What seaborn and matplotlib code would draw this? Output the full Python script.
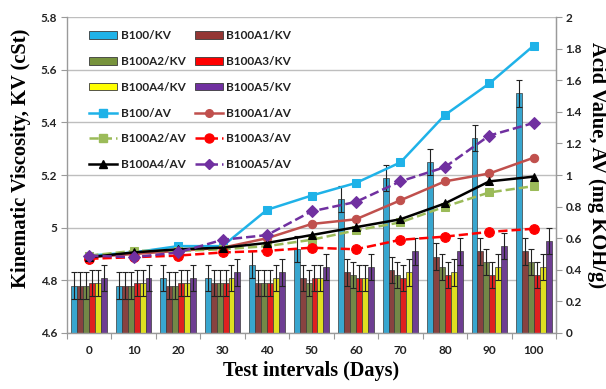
import numpy as np
import pandas as pd
import matplotlib
matplotlib.use("Agg")
import matplotlib.pyplot as plt
import seaborn as sns
from matplotlib.patches import Patch
from matplotlib.lines import Line2D
from matplotlib.container import BarContainer

# ---------------- data ----------------
days = ["0", "10", "20", "30", "40", "50", "60", "70", "80", "90", "100"]
samples = ["B100", "B100A1", "B100A2", "B100A3", "B100A4", "B100A5"]

kv_b100 = [4.78, 4.78, 4.81, 4.81, 4.86, 4.92, 5.11, 5.19, 5.25, 5.34, 5.51]
kv_a1 = [4.78, 4.78, 4.78, 4.79, 4.79, 4.81, 4.83, 4.84, 4.89, 4.91, 4.91]
kv_a2 = [4.78, 4.78, 4.78, 4.79, 4.79, 4.79, 4.82, 4.82, 4.85, 4.87, 4.87]
kv_a3 = [4.79, 4.79, 4.79, 4.79, 4.79, 4.81, 4.81, 4.81, 4.82, 4.82, 4.82]
kv_a4 = [4.79, 4.79, 4.79, 4.81, 4.81, 4.81, 4.81, 4.83, 4.83, 4.85, 4.85]
kv_a5 = [4.81, 4.81, 4.81, 4.83, 4.83, 4.85, 4.85, 4.91, 4.91, 4.93, 4.95]
kv_err = 0.05

av_b100 = [0.49, 0.51, 0.55, 0.55, 0.78, 0.87, 0.95, 1.08, 1.38, 1.58, 1.82]
av_a1 = [0.48, 0.50, 0.52, 0.54, 0.60, 0.69, 0.72, 0.84, 0.96, 1.01, 1.11]
av_a2 = [0.49, 0.52, 0.52, 0.53, 0.55, 0.59, 0.65, 0.70, 0.80, 0.89, 0.93]
av_a3 = [0.47, 0.48, 0.49, 0.51, 0.52, 0.54, 0.53, 0.59, 0.61, 0.64, 0.66]
av_a4 = [0.48, 0.51, 0.53, 0.54, 0.57, 0.62, 0.67, 0.72, 0.82, 0.96, 0.99]
av_a5 = [0.49, 0.48, 0.51, 0.59, 0.62, 0.77, 0.83, 0.96, 1.05, 1.25, 1.33]

kv_left_ticks = [4.6, 4.8, 5.0, 5.2, 5.4, 5.6, 5.8]
kv_left_labels = ["4.6", "4.8", "5", "5.2", "5.4", "5.6", "5.8"]
av_right_ticks = [0, 0.2, 0.4, 0.6, 0.8, 1.0, 1.2, 1.4, 1.6, 1.8, 2.0]
av_right_labels = ["0", "0.2", "0.4", "0.6", "0.8", "1", "1.2", "1.4", "1.6", "1.8", "2"]

# ---------------- styles ----------------
bar_colors = ["#1FB2E8", "#943634", "#77933C", "#FF0000", "#FFFF00", "#7030A0"]
line_colors = ["#1FB2E8", "#C0504D", "#9BBB59", "#FF0000", "#000000", "#7030A0"]
line_styles = ["-", "-", "--", "--", "-", "--"]
line_markers = ["s", "o", "s", "o", "^", "D"]
marker_sizes = [6, 6, 6, 7, 6, 6]

kv_all = [kv_b100, kv_a1, kv_a2, kv_a3, kv_a4, kv_a5]
av_all = [av_b100, av_a1, av_a2, av_a3, av_a4, av_a5]

df = pd.DataFrame({
    "day": np.tile(days, len(samples)),
    "sample": np.repeat(samples, len(days)),
    "kv": np.concatenate(kv_all),
})

tick_font = "Lato"
label_font = ["Liberation Serif"]

fig = plt.figure(figsize=(6.06, 3.89), dpi=100)
ax = fig.add_axes([0.1106, 0.144, 0.8069, 0.812])

sns.barplot(data=df, x="day", y="kv", hue="sample", order=days, hue_order=samples,
            palette=bar_colors, errorbar=None, width=0.8, ax=ax,
            edgecolor="#3a3a3a", linewidth=0.5, legend=False, zorder=2)

bar_containers = [c for c in ax.containers if isinstance(c, BarContainer)]
for cont in bar_containers:
    for bar in list(cont.patches):
        ax.errorbar(bar.get_x() + bar.get_width() / 2, bar.get_height(), yerr=kv_err,
                    fmt="none", ecolor="#222222", elinewidth=0.8, capsize=2.2,
                    capthick=0.8, zorder=3)

ax.set_ylim(4.6, 5.8)
ax.set_xlim(-0.5, 10.5)
ax.set_yticks(kv_left_ticks)
ax.set_yticklabels(kv_left_labels)
ax.yaxis.grid(True, color="#BEBEBE", linewidth=1.0, zorder=0)
ax.set_axisbelow(True)
ax.xaxis.grid(False)

ax.spines["top"].set_visible(False)
for s in ["left", "bottom", "right"]:
    ax.spines[s].set_color("#9A9A9A")
    ax.spines[s].set_linewidth(1.0)

ax.tick_params(axis="y", direction="out", length=4, width=0.8, color="#9A9A9A", pad=3)
ax.tick_params(axis="x", which="major", length=0, pad=9)
ax.set_xticks(np.arange(-0.5, 11, 1.0), minor=True)
ax.tick_params(axis="x", which="minor", direction="out", length=4, width=0.8, color="#9A9A9A")

for lab in ax.get_yticklabels() + ax.get_xticklabels():
    lab.set_fontfamily(tick_font)
    lab.set_fontweight("bold")
    lab.set_fontsize(8.5)
    lab.set_color("#222222")

ax.set_xlabel("Test intervals (Days)", family=label_font, fontweight="bold", fontsize=14.5, labelpad=3)
ax.set_ylabel("Kinematic Viscosity, KV (cSt)", family=label_font, fontweight="bold", fontsize=14.8,
              labelpad=7, y=0.554)

# ---------------- acid value lines ----------------
ax2 = ax.twinx()
pos = np.arange(len(days))
for vals, c, ls, mk, ms in zip(av_all, line_colors, line_styles, line_markers, marker_sizes):
    sns.lineplot(x=pos, y=vals, ax=ax2, color=c, linestyle=ls, marker=mk, markersize=ms,
                 markeredgecolor=c, linewidth=1.8, zorder=4)

ax2.set_ylim(0, 2)
ax2.set_yticks(av_right_ticks)
ax2.set_yticklabels(av_right_labels)
ax2.grid(False)
for s in ["top", "left", "bottom"]:
    ax2.spines[s].set_visible(False)
ax2.spines["right"].set_color("#9A9A9A")
ax2.tick_params(axis="y", direction="out", length=4, width=0.8, color="#9A9A9A", pad=3)
for lab in ax2.get_yticklabels():
    lab.set_fontfamily(tick_font)
    lab.set_fontweight("bold")
    lab.set_fontsize(8.5)
    lab.set_color("#222222")
ax2.set_ylabel("Acid Value, AV (mg KOH/g)", family=label_font, fontweight="bold", fontsize=14.8,
               rotation=-90, labelpad=18, y=0.532)

# ---------------- legend ----------------
handles, labels = [], []
for smp, c in zip(samples, bar_colors):
    handles.append(Patch(facecolor=c, edgecolor="#3a3a3a", linewidth=0.6))
    labels.append(f"{smp}/KV")
for smp, c, ls, mk, ms in zip(samples, line_colors, line_styles, line_markers, marker_sizes):
    handles.append(Line2D([0], [0], color=c, linestyle=ls, marker=mk, markersize=ms - 0.5,
                          markeredgecolor=c, linewidth=1.8))
    labels.append(f"{smp}/AV")

col1 = [0, 2, 4, 6, 8, 10]
col2 = [1, 3, 5, 7, 9, 11]
seq = col1 + col2
leg = ax2.legend([handles[i] for i in seq], [labels[i] for i in seq], ncol=2,
                 loc="upper left", bbox_to_anchor=(0.045, 0.958), frameon=False,
                 prop={"family": tick_font, "weight": "bold", "size": 8.5},
                 handlelength=2.4, handleheight=0.6, handletextpad=0.3,
                 labelspacing=1.25, columnspacing=0.75, borderpad=0, borderaxespad=0)
for t in leg.get_texts():
    t.set_color("#222222")

fig.savefig("out.png", dpi=100)
